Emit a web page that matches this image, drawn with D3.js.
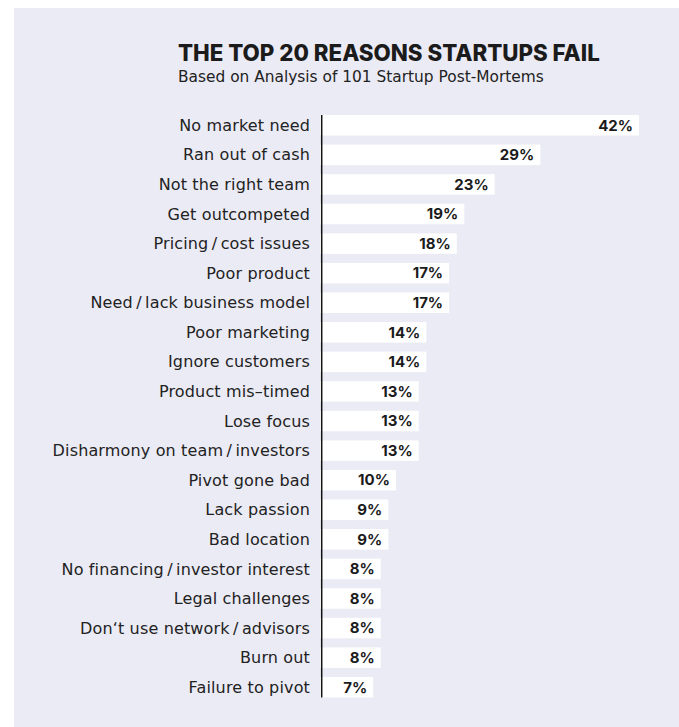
<!DOCTYPE html>
<html>
<head>
<meta charset="utf-8">
<script src="https://cdn.jsdelivr.net/npm/d3@7"></script>
<style>
  html, body { margin: 0; padding: 0; background: #ffffff; }
  svg { display: block; }
  text { fill: #1b1b1b; }
  .heading, .value { font-family: Inter, "Noto Sans", sans-serif; }
  .sub, .tick text { font-family: "DejaVu Sans", "Noto Sans", sans-serif; }
</style>
</head>
<body>
<svg id="chart" width="679" height="727"></svg>
<script>
// Reasons, in ranked order, and the share of post-mortems citing each (%)
const reasons = [
  "No market need",
  "Ran out of cash",
  "Not the right team",
  "Get outcompeted",
  "Pricing\u2009/\u2009cost issues",
  "Poor product",
  "Need\u2009/\u2009lack business model",
  "Poor marketing",
  "Ignore customers",
  "Product mis\u2013timed",
  "Lose focus",
  "Disharmony on team\u2009/\u2009investors",
  "Pivot gone bad",
  "Lack passion",
  "Bad location",
  "No financing\u2009/\u2009investor interest",
  "Legal challenges",
  "Don\u2018t use network\u2009/\u2009advisors",
  "Burn out",
  "Failure to pivot"
];
const shares = [42, 29, 23, 19, 18, 17, 17, 14, 14, 13, 13, 13, 10, 9, 9, 8, 8, 8, 8, 7];

const titleText = "THE TOP 20 REASONS STARTUPS FAIL";
const subtitleText = "Based on Analysis of 101 Startup Post-Mortems";

const svg = d3.select("#chart");

// backdrop panel
svg.append("rect")
  .attr("x", 14).attr("y", 8)
  .attr("width", 665).attr("height", 719)
  .attr("fill", "#ebebf5");

// headings
svg.append("text")
  .attr("class", "heading")
  .attr("x", 178).attr("y", 60.5)
  .style("font-size", "22.3px")
  .style("font-weight", 800)
  .text(titleText);

svg.append("text")
  .attr("class", "sub")
  .attr("x", 178).attr("y", 81.5)
  .style("font-size", "15.4px")
  .style("font-weight", 400)
  .style("fill", "#222")
  .text(subtitleText);

const data = reasons.map((r, i) => ({ reason: r, value: shares[i] }));

const x = d3.scaleLinear()
  .domain([0, d3.max(shares)])
  .range([320, 639]);

const y = d3.scaleBand()
  .domain(reasons)
  .range([110.5, 702])
  .paddingInner(0.307)
  .paddingOuter(0.1535);

// bars
svg.append("g")
  .selectAll("rect")
  .data(data)
  .join("rect")
  .attr("x", x(0))
  .attr("y", d => y(d.reason))
  .attr("width", d => x(d.value) - x(0))
  .attr("height", y.bandwidth())
  .attr("fill", "#ffffff");

// value labels inside bar ends
svg.append("g")
  .selectAll("text")
  .data(data)
  .join("text")
  .attr("class", "value")
  .attr("x", d => x(d.value) - 6)
  .attr("y", d => y(d.reason) + y.bandwidth() / 2 + 5.3)
  .attr("text-anchor", "end")
  .style("font-size", "15px")
  .style("font-weight", 700)
  .text(d => d.value + "%");

// category axis
const axisX = 321.7;
const axis = svg.append("g")
  .attr("transform", `translate(${axisX},0)`)
  .call(d3.axisLeft(y).tickSize(0).tickPadding(11.7));
axis.select(".domain").remove();
axis.selectAll(".tick text")
  .style("font-family", "'DejaVu Sans', 'Noto Sans', sans-serif")
  .style("font-size", "16px")
  .style("letter-spacing", "0.15px")
  .style("fill", "#222")
  .attr("dy", "0.35em");

svg.append("line")
  .attr("x1", axisX).attr("x2", axisX)
  .attr("y1", y(reasons[0]))
  .attr("y2", y(reasons[reasons.length - 1]) + y.bandwidth())
  .attr("stroke", "#111")
  .attr("stroke-width", 1.5);
</script>
</body>
</html>
